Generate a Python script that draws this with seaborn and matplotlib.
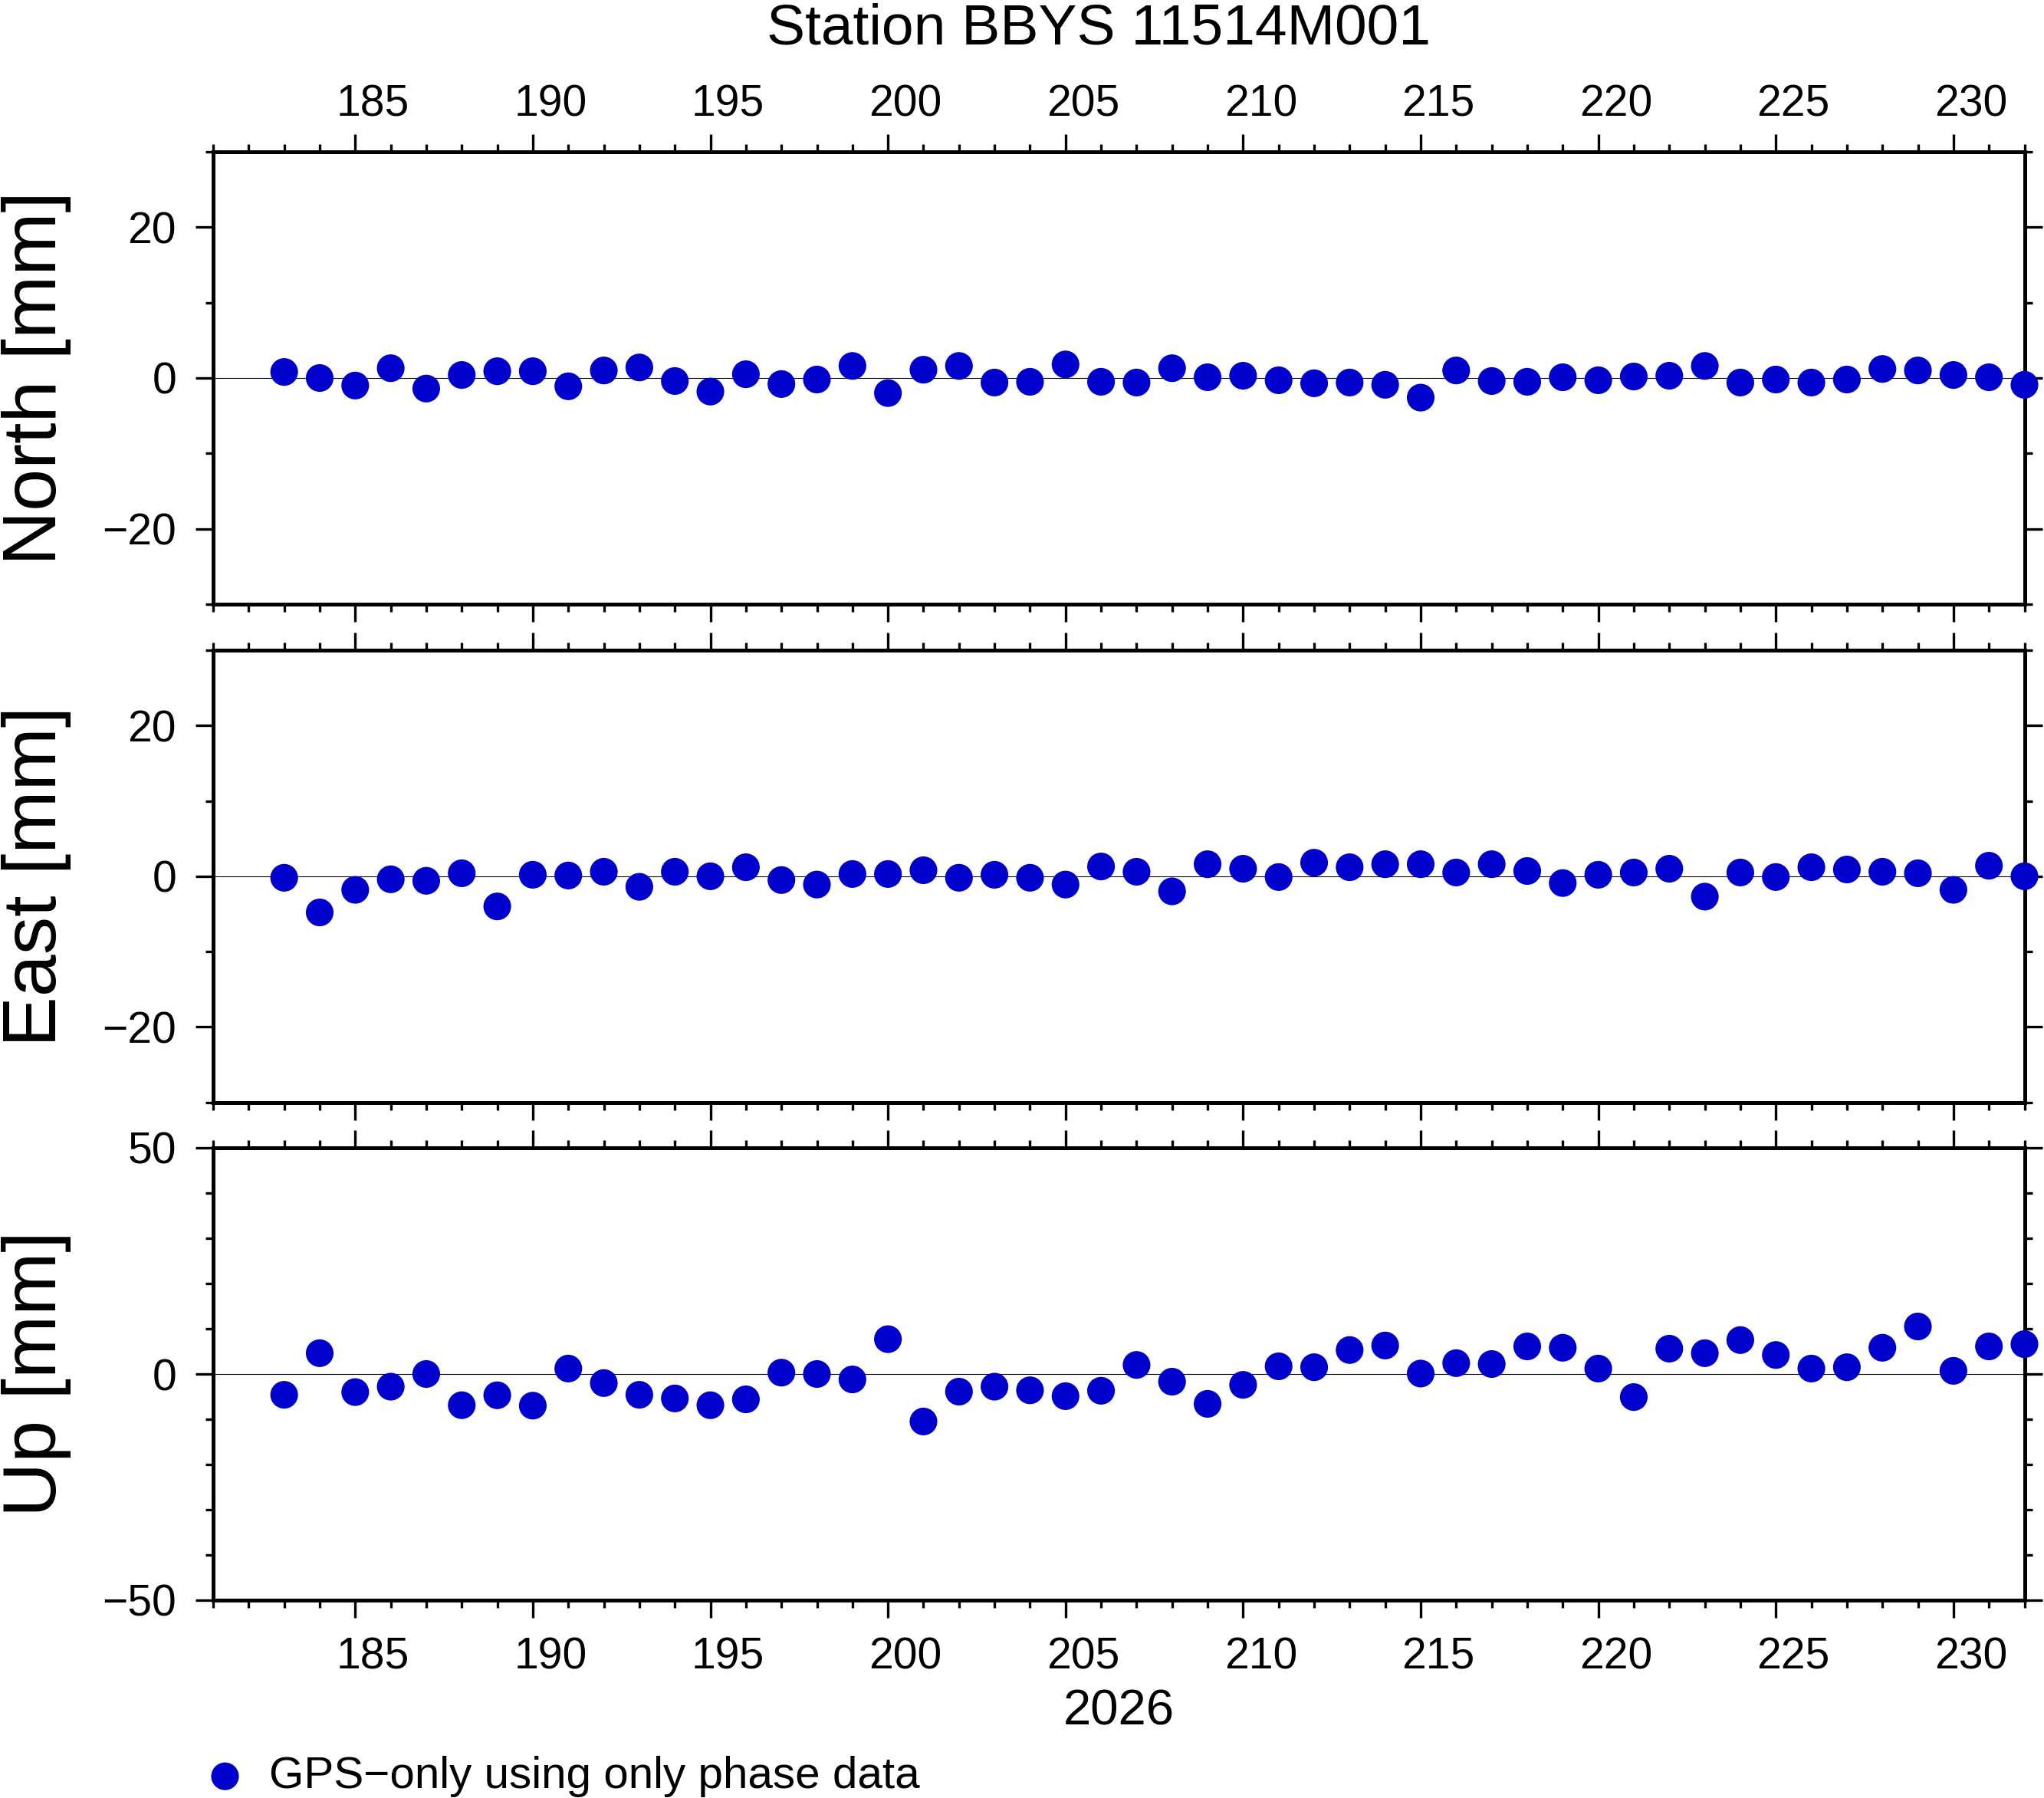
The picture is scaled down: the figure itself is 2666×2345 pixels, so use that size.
import matplotlib
matplotlib.use("Agg")
import matplotlib.pyplot as plt
import matplotlib.transforms as mtransforms
from matplotlib.ticker import MultipleLocator, FixedLocator
import seaborn as sns

# ---------------- data ----------------
days = list(range(183, 233))

north = [0.8, 0.0, -1.0, 1.3, -1.4, 0.4, 0.9, 0.9, -1.1, 1.0,
         1.4, -0.4, -1.8, 0.5, -0.8, -0.2, 1.6, -2.0, 1.1, 1.6,
         -0.6, -0.5, 1.8, -0.5, -0.6, 1.3, 0.1, 0.3, -0.3, -0.7,
         -0.6, -0.9, -2.6, 1.0, -0.4, -0.5, 0.1, -0.3, 0.2, 0.3,
         1.6, -0.6, -0.2, -0.6, -0.2, 1.2, 1.0, 0.4, 0.1, -0.9]

east = [-0.2, -4.8, -1.8, -0.4, -0.6, 0.4, -4.0, 0.2, 0.1, 0.6,
        -1.4, 0.6, 0.0, 1.2, -0.5, -1.1, 0.3, 0.3, 0.8, -0.2,
        0.2, -0.2, -1.1, 1.3, 0.6, -2.0, 1.6, 1.0, -0.1, 1.8,
        1.2, 1.6, 1.6, 0.5, 1.6, 0.7, -0.9, 0.2, 0.5, 1.0,
        -2.7, 0.5, -0.1, 1.2, 0.9, 0.6, 0.4, -1.8, 1.4, 0.0]

up = [-4.6, 4.6, -4.0, -2.8, 0.0, -6.9, -4.7, -7.0, 1.2, -2.0,
      -4.6, -5.4, -6.9, -5.6, 0.3, 0.0, -1.2, 7.7, -10.5, -3.9,
      -2.8, -3.6, -4.9, -3.7, 2.0, -1.7, -6.6, -2.4, 1.7, 1.5,
      5.3, 6.3, 0.1, 2.4, 2.2, 6.1, 5.8, 1.2, -5.1, 5.6,
      4.6, 7.5, 4.2, 1.2, 1.5, 5.8, 10.5, 0.7, 6.1, 6.6]

TITLE = "Station BBYS 11514M001"
YEAR_LABEL = "2026"
LEGEND_LABEL = "GPS\u2212only using only phase data"
panel_labels = ["North [mm]", "East [mm]", "Up [mm]"]
panel_limits = [(-30, 30), (-30, 30), (-50, 50)]
panel_major_ticks = [[-20, 0, 20], [-20, 0, 20], [-50, 0, 50]]
x_major_ticks = [185, 190, 195, 200, 205, 210, 215, 220, 225, 230]
x_limits = (181, 232)

# ---------------- style ----------------
sns.set_theme(style="ticks")
plt.rcParams["font.family"] = ["Liberation Sans", "DejaVu Sans"]
plt.rcParams.update({
    "text.color": "black",
    "axes.labelcolor": "black",
    "axes.edgecolor": "black",
    "xtick.color": "black",
    "ytick.color": "black",
    "axes.unicode_minus": True,
})

W, H = 2666, 2345
DPI = 100
fig = plt.figure(figsize=(W / DPI, H / DPI), dpi=DPI)

left_px, right_px = 278, 2640.5
panel_px = [(198, 788), (848, 1437.7), (1497, 2087)]

dot_color = "#0000CC"
series = [north, east, up]
axes = []
for i, (top, bot) in enumerate(panel_px):
    ax = fig.add_axes([left_px / W, 1 - bot / H, (right_px - left_px) / W, (bot - top) / H])
    axes.append(ax)
    ax.axhline(0, color="black", lw=0.8, zorder=1)
    sns.scatterplot(x=days, y=series[i], ax=ax, color=dot_color, s=676,
                    edgecolor="none", linewidth=0, clip_on=False, zorder=3,
                    label=LEGEND_LABEL, legend=False)
    ax.set_xlim(*x_limits)
    ax.set_ylim(*panel_limits[i])
    ax.xaxis.set_major_locator(FixedLocator(x_major_ticks))
    ax.xaxis.set_minor_locator(MultipleLocator(1))
    ax.yaxis.set_major_locator(FixedLocator(panel_major_ticks[i]))
    ax.yaxis.set_minor_locator(MultipleLocator(10))
    for s in ax.spines.values():
        s.set_linewidth(3.6)
        s.set_color("black")
        s.set_visible(True)
    ax.tick_params(axis="both", which="both", direction="out", top=True, bottom=True,
                   left=True, right=True, width=2.4, color="black")
    ax.tick_params(which="major", length=16.5)
    ax.tick_params(which="minor", length=7.5)
    ax.tick_params(axis="y", which="major", labelsize=41, pad=18,
                   labelleft=True, labelright=False)
    ax.tick_params(axis="x", which="major", labelsize=41, pad=(8 if i == 0 else 18),
                   labeltop=(i == 0), labelbottom=(i == 2))
    ax.set_xlabel("")
    ax.set_ylabel(panel_labels[i], fontsize=71, va="baseline", ha="center")
    ax.yaxis.set_label_coords((73 - left_px) / (right_px - left_px), 0.5)
    ax.grid(False)

    # GMT-style day labels: centred half a day right of the tick
    offset = mtransforms.ScaledTranslation(0.23, 0, fig.dpi_scale_trans)
    for t in ax.xaxis.get_major_ticks(len(x_major_ticks)):
        t.label1.set_transform(t.label1.get_transform() + offset)
        t.label2.set_transform(t.label2.get_transform() + offset)

ax_up = axes[2]
ax_up.set_xlabel(YEAR_LABEL, fontsize=47, va="baseline")
ax_up.xaxis.set_label_coords(0.5, (2087 - 2250) / (2087 - 1497))

fig.text(1433 / W, 1 - 58 / H, TITLE, ha="center", va="baseline", fontsize=54)

handles, labels = ax_up.get_legend_handles_labels()
fig.legend(handles[:1], labels[:1], loc="center left",
           bbox_to_anchor=(276 / W, 1 - 2317 / H), frameon=False, fontsize=42,
           handlelength=0.6, handletextpad=0.69, borderpad=0, borderaxespad=0,
           scatterpoints=1)

fig.savefig("out.png", dpi=DPI)
